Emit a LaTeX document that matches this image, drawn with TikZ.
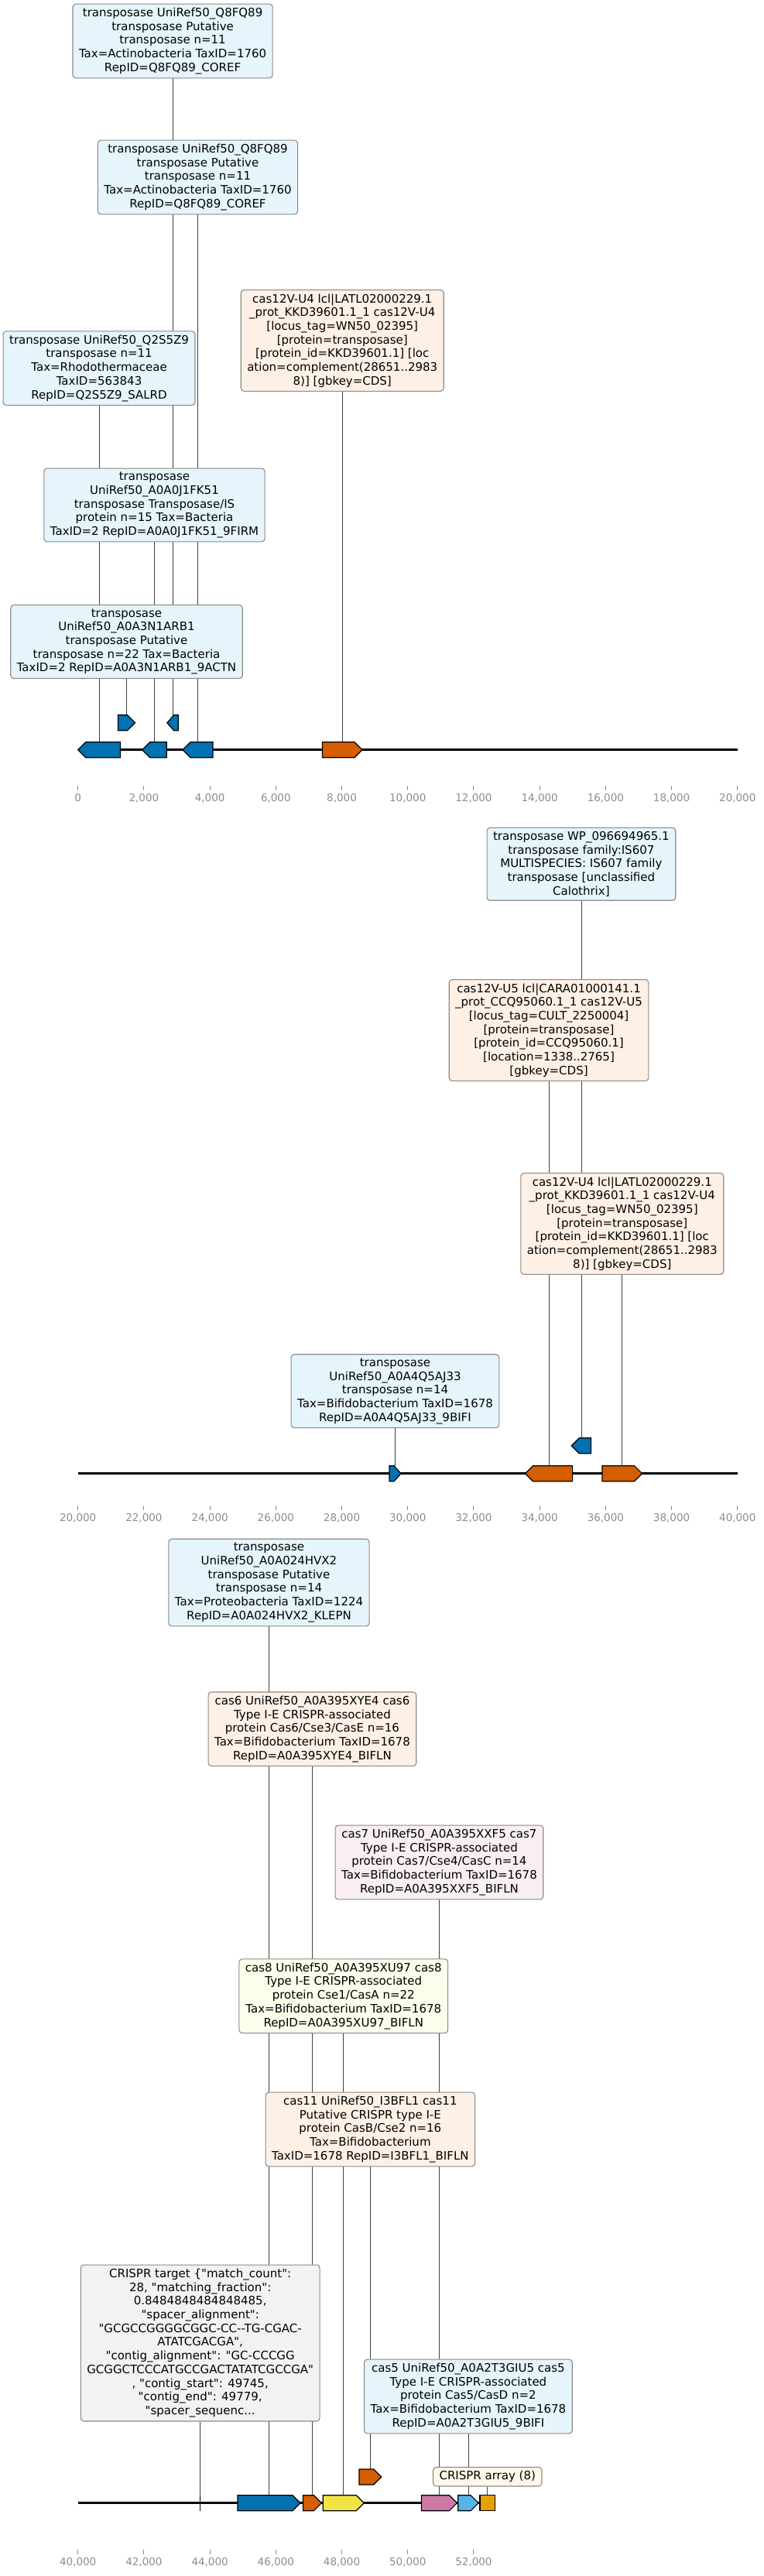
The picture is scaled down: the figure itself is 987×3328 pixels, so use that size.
\documentclass[tikz,border=0pt]{standalone}
\usepackage{fontspec}
\setmainfont{DejaVu Sans}[Ligatures=TeXOff]
\usetikzlibrary{backgrounds}
\definecolor{cdsblue}{HTML}{0072B2}
\definecolor{cdsred}{HTML}{D55E00}
\definecolor{cdsyellow}{HTML}{F0E442}
\definecolor{cdspink}{HTML}{CC79A7}
\definecolor{cdssky}{HTML}{56B4E9}
\definecolor{cdsamber}{HTML}{E69F00}
\definecolor{fillblue}{HTML}{E6F4FC}
\definecolor{fillred}{HTML}{FFF0E6}
\definecolor{fillpink}{HTML}{F8EEF3}
\definecolor{fillyellow}{HTML}{FDFDEB}
\definecolor{fillgrey}{HTML}{F2F2F2}
\definecolor{fillamber}{HTML}{FFF7E8}
\definecolor{rimgrey}{HTML}{8A8A8A}
\definecolor{tickgrey}{HTML}{8C8C8C}
\begin{document}
\begin{tikzpicture}[x=1pt,y=-1pt,
  ann/.style={draw=rimgrey,line width=1.1pt,rounded corners=4pt,align=center,
    inner xsep=8pt,inner ysep=5pt,font=\fontsize{15}{17.7}\selectfont},
  link/.style={black!75,line width=0.8pt},
  cds/.style={draw=black,line width=1.2pt},
  axisline/.style={line width=2.5pt},
  ticklab/.style={text=tickgrey,font=\fontsize{13.5}{16}\selectfont}]
  \useasboundingbox (0,0) rectangle (987,3328);
  % three stretches of the contig: 0-20k, 20k-40k, 40k-52.6k
  \draw[axisline] (100.7,968.7) -- (952.8,968.7);
  \draw[axisline] (100.7,1903.7) -- (952.8,1903.7);
  \draw[axisline] (100.7,3233.7) -- (639.5,3233.7);
  \foreach \k in {0,...,10}{
    \pgfmathtruncatemacro{\v}{2*\k}
    \draw[tickgrey,line width=1pt] (100.7+85.21*\k,1015) -- ++(0,6);
    \node[ticklab] (ta\k) at (100.7+85.21*\k,1031) {\ifnum\k=0 0\else\v,000\fi};
    \pgfmathtruncatemacro{\v}{20+2*\k}
    \draw[tickgrey,line width=1pt] (100.7+85.21*\k,1945) -- ++(0,6);
    \node[ticklab] (tb\k) at (100.7+85.21*\k,1961) {\v,000};
  }
  \foreach \k in {0,...,6}{
    \pgfmathtruncatemacro{\v}{40+2*\k}
    \draw[tickgrey,line width=1pt] (100.7+85.21*\k,3294) -- ++(0,6);
    \node[ticklab] (tc\k) at (100.7+85.21*\k,3310) {\v,000};
  }
  % genes: name/start/end/row/direction/colour
  \foreach \nm/\xa/\xb/\yy/\dir/\col in {
      gA/100.7/155.4/968.7/-1/cdsblue, gB/183.8/215.2/968.7/-1/cdsblue,
      gC/236/275/968.7/-1/cdsblue, gD/416.5/468/968.7/1/cdsred,
      gE/152.5/174.5/933.8/1/cdsblue, gF/215.9/230.3/933.8/-1/cdsblue,
      gG/503/518/1903.7/1/cdsblue, gH/678.5/739.6/1903.7/-1/cdsred,
      gI/778/829.6/1903.7/1/cdsred, gJ/738.3/763.5/1867.7/-1/cdsblue,
      gK/307/388/3233.7/1/cdsblue, gL/391.5/415.4/3233.7/1/cdsred,
      gM/417.3/470.2/3233.7/1/cdsyellow, gN/463.9/492.8/3200/1/cdsred,
      gO/544.5/590.4/3233.7/1/cdspink, gP/591.7/618.1/3233.7/1/cdssky,
      gQ/620/639.5/3233.7/0/cdsamber}{
    \pgfmathsetmacro{\h}{min(10,0.6*(\xb-\xa))}
    \pgfmathsetmacro{\hl}{\dir<0 ? \h : 0}
    \pgfmathsetmacro{\hr}{\dir>0 ? \h : 0}
    \draw[cds,fill=\col] (\xa,\yy) -- (\xa+\hl,\yy-10) -- (\xb-\hr,\yy-10) -- (\xb,\yy)
      -- (\xb-\hr,\yy+10) -- (\xa+\hl,\yy+10) -- cycle;
    \coordinate (\nm) at ({(\xa+\xb)/2},\yy-10);
  }
  % the matched spacer target is only a tick on the line
  \draw[line width=1.2pt] (258.7,3223.7) -- (258.7,3244);
  \coordinate (tgt) at (258.7,3223.7);

  \node[ann,fill=fillblue] (b1) at (223.1,53) {transposase UniRef50\_Q8FQ89\\transposase Putative\\transposase n=11\\Tax=Actinobacteria TaxID=1760\\RepID=Q8FQ89\_COREF};
  \node[ann,fill=fillblue] (b2) at (255.5,229) {transposase UniRef50\_Q8FQ89\\transposase Putative\\transposase n=11\\Tax=Actinobacteria TaxID=1760\\RepID=Q8FQ89\_COREF};
  \node[ann,fill=fillred] (b4) at (442.25,440) {cas12V-U4 lcl|LATL02000229.1\\\_prot\_KKD39601.1\_1 cas12V-U4\\{[}locus\_tag=WN50\_02395]\\{[}protein=transposase]\\{[}protein\_id=KKD39601.1] [loc\\ation=complement(28651..2983\\8)] [gbkey=CDS]};
  \node[ann,fill=fillblue] (b3) at (128.05,475.7) {transposase UniRef50\_Q2S5Z9\\transposase n=11\\Tax=Rhodothermaceae\\TaxID=563843\\RepID=Q2S5Z9\_SALRD};
  \node[ann,fill=fillblue] (b5) at (199.5,652.5) {transposase\\UniRef50\_A0A0J1FK51\\transposase Transposase/IS\\protein n=15 Tax=Bacteria\\TaxID=2 RepID=A0A0J1FK51\_9FIRM};
  \node[ann,fill=fillblue] (b6) at (163.5,829) {transposase\\UniRef50\_A0A3N1ARB1\\transposase Putative\\transposase n=22 Tax=Bacteria\\TaxID=2 RepID=A0A3N1ARB1\_9ACTN};

  \node[ann,fill=fillblue] (b7) at (750.9,1116.3) {transposase WP\_096694965.1\\transposase family:IS607\\MULTISPECIES: IS607 family\\transposase [unclassified\\Calothrix]};
  \node[ann,fill=fillred] (b8) at (709.05,1331) {cas12V-U5 lcl|CARA01000141.1\\\_prot\_CCQ95060.1\_1 cas12V-U5\\{[}locus\_tag=CULT\_2250004]\\{[}protein=transposase]\\{[}protein\_id=CCQ95060.1]\\{[}location=1338..2765]\\{[}gbkey=CDS]};
  \node[ann,fill=fillred] (b9) at (803.8,1581) {cas12V-U4 lcl|LATL02000229.1\\\_prot\_KKD39601.1\_1 cas12V-U4\\{[}locus\_tag=WN50\_02395]\\{[}protein=transposase]\\{[}protein\_id=KKD39601.1] [loc\\ation=complement(28651..2983\\8)] [gbkey=CDS]};
  \node[ann,fill=fillblue] (b10) at (510.5,1797.2) {transposase\\UniRef50\_A0A4Q5AJ33\\transposase n=14\\Tax=Bifidobacterium TaxID=1678\\RepID=A0A4Q5AJ33\_9BIFI};

  \node[ann,fill=fillblue] (b11) at (347.5,2044.5) {transposase\\UniRef50\_A0A024HVX2\\transposase Putative\\transposase n=14\\Tax=Proteobacteria TaxID=1224\\RepID=A0A024HVX2\_KLEPN};
  \node[ann,fill=fillred] (b12) at (403.45,2233.8) {cas6 UniRef50\_A0A395XYE4 cas6\\Type I-E CRISPR-associated\\protein Cas6/Cse3/CasE n=16\\Tax=Bifidobacterium TaxID=1678\\RepID=A0A395XYE4\_BIFLN};
  \node[ann,fill=fillpink] (b13) at (567.45,2406) {cas7 UniRef50\_A0A395XXF5 cas7\\Type I-E CRISPR-associated\\protein Cas7/Cse4/CasC n=14\\Tax=Bifidobacterium TaxID=1678\\RepID=A0A395XXF5\_BIFLN};
  \node[ann,fill=fillyellow] (b14) at (443.75,2578.7) {cas8 UniRef50\_A0A395XU97 cas8\\Type I-E CRISPR-associated\\protein Cse1/CasA n=22\\Tax=Bifidobacterium TaxID=1678\\RepID=A0A395XU97\_BIFLN};
  \node[ann,fill=fillred] (b15) at (478.35,2751) {cas11 UniRef50\_I3BFL1 cas11\\Putative CRISPR type I-E\\protein CasB/Cse2 n=16\\Tax=Bifidobacterium\\TaxID=1678 RepID=I3BFL1\_BIFLN};
  \node[ann,fill=fillgrey] (b16) at (258.7,3027) {CRISPR target \{"match\_count":\\28, "matching\_fraction":\\0.8484848484848485,\\"spacer\_alignment":\\"GCGCCGGGGCGGC-CC-{}-TG-CGAC-\\ATATCGACGA",\\"contig\_alignment": "GC-CCCGG\\GCGGCTCCCATGCCGACTATATCGCCGA"\\, "contig\_start": 49745,\\"contig\_end": 49779,\\"spacer\_sequenc...};
  \node[ann,fill=fillblue] (b17) at (604.9,3096) {cas5 UniRef50\_A0A2T3GIU5 cas5\\Type I-E CRISPR-associated\\protein Cas5/CasD n=2\\Tax=Bifidobacterium TaxID=1678\\RepID=A0A2T3GIU5\_9BIFI};
  \node[ann,fill=fillamber] (b18) at (629.75,3199.7) {CRISPR array (8)};

  \begin{pgfonlayer}{background}
    \foreach \s/\t in {b1/gF,b2/gC,b3/gA,b4/gD,b5/gB,b6/gE,b7/gJ,b8/gH,b9/gI,b10/gG,
        b11/gK,b12/gL,b13/gO,b14/gM,b15/gN,b16/tgt,b17/gP,b18/gQ}
      \draw[link] (\s.south -| \t) -- (\t);
  \end{pgfonlayer}
\end{tikzpicture}
\end{document}
